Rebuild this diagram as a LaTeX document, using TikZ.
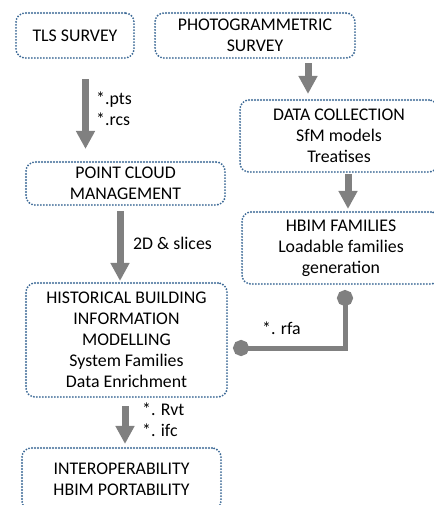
\documentclass[tikz,border=0pt]{standalone}
\usepackage{fontspec}
\setmainfont{Carlito}
\usetikzlibrary{arrows.meta,calc}
\definecolor{boxblue}{RGB}{60,105,150}
\definecolor{arrgray}{RGB}{128,128,128}
\begin{document}
\begin{tikzpicture}[x=1pt,y=-1pt,
  box/.style={draw=boxblue, line width=2.1pt, dash pattern=on 0pt off 3pt, line cap=round,
    rounded corners=9pt, align=center, inner sep=0pt, font=\fontsize{17.8}{21}\selectfont},
  arr/.style={draw=arrgray, line width=7pt, -{Triangle[width=18pt,length=18pt]}},
  conn/.style={draw=arrgray, line width=5pt, {Circle[length=16pt]}-{Circle[length=16pt]}},
  lab/.style={anchor=west, align=left, inner sep=0pt, font=\fontsize{17.8}{21}\selectfont}]
\useasboundingbox (0,0) rectangle (433,505);
\node[box, minimum width=118pt, minimum height=45pt] (tls) at (75,35.5) {TLS SURVEY};
\node[box, minimum width=200pt, minimum height=45pt] (photo) at (255,35.5) {PHOTOGRAMMETRIC\\SURVEY};
\node[box, minimum width=198pt, minimum height=72pt] (data) at (339,136) {DATA COLLECTION\\SfM models\\Treatises};
\node[box, minimum width=199pt, minimum height=43pt] (pcm) at (125.5,183.5) {POINT CLOUD\\MANAGEMENT};
\node[box, minimum width=198pt, minimum height=72pt] (hfam) at (341,248) {HBIM FAMILIES\\Loadable families\\generation};
\node[box, minimum width=201pt, minimum height=114pt] (hbim) at (126.5,340) {HISTORICAL BUILDING\\INFORMATION\\MODELLING\\System Families\\Data Enrichment};
\node[box, minimum width=199pt, minimum height=62pt] (inter) at (121.5,479) {INTEROPERABILITY\\HBIM PORTABILITY};

\draw[arr] ($(tls.south)+(10.5,20)$) -- ($(pcm.north)+(-40,-12)$);
\draw[arr] ($(photo.south)+(53,4)$) -- ($(data.north)+(-31,-5)$);
\draw[arr] ($(pcm.south)+(-5.5,5)$) -- ($(hbim.north)+(-6.5,-1)$);
\draw[arr] ($(data.south)+(9,1)$) -- ($(hfam.north)+(7,-2)$);
\draw[arr] ($(hbim.south)+(-1.5,8)$) -- ($(inter.north)+(3.5,-3)$);
\draw[conn] ($(hfam.south)+(4,5)$) |- ($(hbim.east)+(5,8)$);

\node[lab] (l1) at (96,109) {*.pts\\*.rcs};
\node[lab] (l2) at (133,243) {2D \& slices};
\node[lab] (l3) at (262,328) {*. rfa};
\node[lab] (l4) at (142,419.5) {*. Rvt\\*. ifc};
\end{tikzpicture}
\end{document}
